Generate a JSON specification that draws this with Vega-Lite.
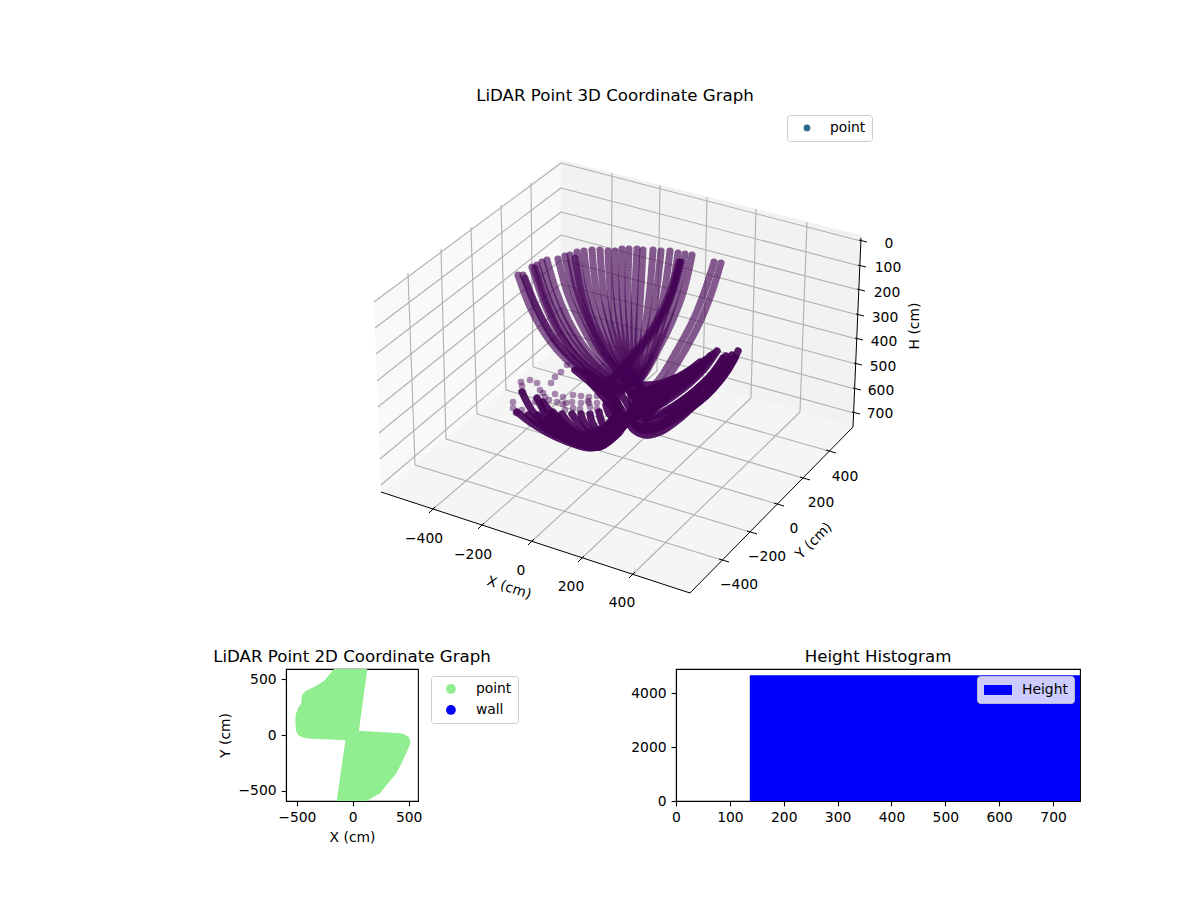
{
"$schema":"https://vega.github.io/schema/vega-lite/v6.json",
"padding":0,
"background":"white",
"config":{"font":"DejaVu Sans","view":{"stroke":null},
"title":{"fontSize":16.67,"fontWeight":"normal","color":"#000","anchor":"middle"},
"axis":{"grid":false,"labelFontSize":13.89,"titleFontSize":13.89,"labelColor":"#000","titleColor":"#000","titleFontWeight":"normal","domainColor":"#000","domainWidth":1.1,"tickColor":"#000","tickWidth":1.1,"tickSize":4.9,"labelPadding":5,"labelFlush":false,"labelOverlap":false,"titlePadding":5},
"legend":{"labelFontSize":13.89,"labelColor":"#000","title":null,"orient":"none","strokeColor":"#cccccc","fillColor":"white","cornerRadius":3,"padding":6}},
"datasets":{
"strings":[
{"c":1,"sx":518,"sy":275},{"c":1,"sx":530,"sy":307},{"c":1,"sx":547,"sy":337},{"c":1,"sx":570,"sy":363},{"c":1,"sx":600,"sy":383},{"c":1,"sx":622,"sy":392},
{"c":2,"sx":523,"sy":275},{"c":2,"sx":536,"sy":307},{"c":2,"sx":553,"sy":337},{"c":2,"sx":576,"sy":362},{"c":2,"sx":604,"sy":382},{"c":2,"sx":624,"sy":391},
{"c":3,"sx":532,"sy":267},{"c":3,"sx":543,"sy":300},{"c":3,"sx":558,"sy":332},{"c":3,"sx":580,"sy":360},{"c":3,"sx":606,"sy":380},{"c":3,"sx":625,"sy":390},
{"c":4,"sx":537,"sy":265},{"c":4,"sx":548,"sy":298},{"c":4,"sx":563,"sy":330},{"c":4,"sx":584,"sy":358},{"c":4,"sx":608,"sy":378},{"c":4,"sx":626,"sy":389},
{"c":5,"sx":542,"sy":262},{"c":5,"sx":552,"sy":295},{"c":5,"sx":567,"sy":327},{"c":5,"sx":587,"sy":356},{"c":5,"sx":610,"sy":377},{"c":5,"sx":627,"sy":388},
{"c":6,"sx":547,"sy":260},{"c":6,"sx":557,"sy":293},{"c":6,"sx":571,"sy":325},{"c":6,"sx":590,"sy":354},{"c":6,"sx":612,"sy":375},{"c":6,"sx":628,"sy":387},
{"c":7,"sx":558,"sy":259},{"c":7,"sx":567,"sy":292},{"c":7,"sx":580,"sy":322},{"c":7,"sx":597,"sy":352},{"c":7,"sx":616,"sy":375},{"c":7,"sx":628,"sy":385},
{"c":8,"sx":565,"sy":256},{"c":8,"sx":573,"sy":290},{"c":8,"sx":585,"sy":320},{"c":8,"sx":600,"sy":350},{"c":8,"sx":618,"sy":373},{"c":8,"sx":629,"sy":385},
{"c":9,"sx":570,"sy":255},{"c":9,"sx":577,"sy":290},{"c":9,"sx":588,"sy":320},{"c":9,"sx":603,"sy":350},{"c":9,"sx":620,"sy":373},{"c":9,"sx":630,"sy":384},
{"c":10,"sx":577,"sy":252},{"c":10,"sx":583,"sy":288},{"c":10,"sx":593,"sy":320},{"c":10,"sx":607,"sy":350},{"c":10,"sx":622,"sy":372},{"c":10,"sx":630,"sy":384},
{"c":11,"sx":584,"sy":251},{"c":11,"sx":589,"sy":288},{"c":11,"sx":598,"sy":320},{"c":11,"sx":610,"sy":350},{"c":11,"sx":623,"sy":372},{"c":11,"sx":631,"sy":384},
{"c":12,"sx":592,"sy":250},{"c":12,"sx":596,"sy":288},{"c":12,"sx":604,"sy":320},{"c":12,"sx":614,"sy":350},{"c":12,"sx":625,"sy":372},{"c":12,"sx":632,"sy":384},
{"c":13,"sx":600,"sy":250},{"c":13,"sx":603,"sy":288},{"c":13,"sx":609,"sy":320},{"c":13,"sx":618,"sy":350},{"c":13,"sx":627,"sy":372},{"c":13,"sx":632,"sy":384},
{"c":14,"sx":608,"sy":251},{"c":14,"sx":610,"sy":288},{"c":14,"sx":614,"sy":320},{"c":14,"sx":621,"sy":350},{"c":14,"sx":629,"sy":372},{"c":14,"sx":633,"sy":384},
{"c":15,"sx":615,"sy":251},{"c":15,"sx":616,"sy":288},{"c":15,"sx":619,"sy":320},{"c":15,"sx":624,"sy":350},{"c":15,"sx":630,"sy":372},{"c":15,"sx":634,"sy":384},
{"c":16,"sx":622,"sy":249},{"c":16,"sx":622,"sy":288},{"c":16,"sx":624,"sy":320},{"c":16,"sx":627,"sy":350},{"c":16,"sx":632,"sy":372},{"c":16,"sx":634,"sy":384},
{"c":17,"sx":629,"sy":249},{"c":17,"sx":628,"sy":288},{"c":17,"sx":629,"sy":320},{"c":17,"sx":630,"sy":350},{"c":17,"sx":633,"sy":372},{"c":17,"sx":635,"sy":384},
{"c":18,"sx":637,"sy":249},{"c":18,"sx":635,"sy":288},{"c":18,"sx":634,"sy":320},{"c":18,"sx":634,"sy":350},{"c":18,"sx":635,"sy":372},{"c":18,"sx":635,"sy":384},
{"c":19,"sx":643,"sy":250},{"c":19,"sx":641,"sy":288},{"c":19,"sx":639,"sy":320},{"c":19,"sx":637,"sy":350},{"c":19,"sx":636,"sy":372},{"c":19,"sx":635,"sy":384},
{"c":20,"sx":653,"sy":250},{"c":20,"sx":650,"sy":288},{"c":20,"sx":646,"sy":320},{"c":20,"sx":641,"sy":350},{"c":20,"sx":638,"sy":372},{"c":20,"sx":636,"sy":384},
{"c":21,"sx":661,"sy":251},{"c":21,"sx":657,"sy":288},{"c":21,"sx":652,"sy":320},{"c":21,"sx":645,"sy":350},{"c":21,"sx":640,"sy":372},{"c":21,"sx":636,"sy":384},
{"c":22,"sx":670,"sy":251},{"c":22,"sx":665,"sy":288},{"c":22,"sx":658,"sy":320},{"c":22,"sx":650,"sy":350},{"c":22,"sx":642,"sy":372},{"c":22,"sx":636,"sy":384},
{"c":23,"sx":678,"sy":253},{"c":23,"sx":672,"sy":288},{"c":23,"sx":663,"sy":320},{"c":23,"sx":653,"sy":350},{"c":23,"sx":644,"sy":372},{"c":23,"sx":636,"sy":384},
{"c":24,"sx":685,"sy":254},{"c":24,"sx":678,"sy":288},{"c":24,"sx":668,"sy":320},{"c":24,"sx":656,"sy":350},{"c":24,"sx":645,"sy":372},{"c":24,"sx":636,"sy":384},
{"c":25,"sx":692,"sy":255},{"c":25,"sx":684,"sy":290},{"c":25,"sx":672,"sy":322},{"c":25,"sx":658,"sy":350},{"c":25,"sx":646,"sy":372},{"c":25,"sx":636,"sy":386},
{"c":26,"sx":680,"sy":262},{"c":26,"sx":670,"sy":297},{"c":26,"sx":653,"sy":330},{"c":26,"sx":630,"sy":360},{"c":26,"sx":613,"sy":377},
{"c":27,"sx":681,"sy":262},{"c":27,"sx":671,"sy":297},{"c":27,"sx":655,"sy":330},{"c":27,"sx":632,"sy":360},{"c":27,"sx":614,"sy":378},
{"c":28,"sx":679,"sy":262},{"c":28,"sx":668,"sy":297},{"c":28,"sx":651,"sy":330},{"c":28,"sx":628,"sy":360},{"c":28,"sx":612,"sy":378},
{"c":29,"sx":714,"sy":262},{"c":29,"sx":705,"sy":290},{"c":29,"sx":693,"sy":320},{"c":29,"sx":677,"sy":350},{"c":29,"sx":660,"sy":378},{"c":29,"sx":645,"sy":395},
{"c":30,"sx":721,"sy":263},{"c":30,"sx":712,"sy":292},{"c":30,"sx":700,"sy":322},{"c":30,"sx":684,"sy":352},{"c":30,"sx":666,"sy":380},{"c":30,"sx":650,"sy":398},
{"c":31,"sx":525,"sy":278},{"c":31,"sx":538,"sy":310},{"c":31,"sx":556,"sy":342},{"c":31,"sx":580,"sy":367},{"c":31,"sx":606,"sy":385},
{"c":32,"sx":535,"sy":268},{"c":32,"sx":546,"sy":302},{"c":32,"sx":562,"sy":336},{"c":32,"sx":584,"sy":364},{"c":32,"sx":610,"sy":384},
{"c":33,"sx":575,"sy":258},{"c":33,"sx":582,"sy":295},{"c":33,"sx":593,"sy":328},{"c":33,"sx":608,"sy":358},{"c":33,"sx":625,"sy":380},
{"c":40,"sx":738,"sy":351},{"c":40,"sx":728,"sy":370},{"c":40,"sx":712,"sy":390},{"c":40,"sx":695,"sy":405},{"c":40,"sx":678,"sy":420},{"c":40,"sx":660,"sy":432},{"c":40,"sx":645,"sy":435},{"c":40,"sx":632,"sy":428},{"c":40,"sx":628,"sy":415},
{"c":41,"sx":732,"sy":355},{"c":41,"sx":720,"sy":373},{"c":41,"sx":705,"sy":390},{"c":41,"sx":688,"sy":404},{"c":41,"sx":670,"sy":418},{"c":41,"sx":655,"sy":428},{"c":41,"sx":642,"sy":430},{"c":41,"sx":633,"sy":423},{"c":41,"sx":630,"sy":412},
{"c":42,"sx":723,"sy":358},{"c":42,"sx":712,"sy":374},{"c":42,"sx":696,"sy":390},{"c":42,"sx":680,"sy":403},{"c":42,"sx":664,"sy":414},{"c":42,"sx":650,"sy":422},{"c":42,"sx":640,"sy":423},{"c":42,"sx":634,"sy":416},
{"c":43,"sx":717,"sy":351},{"c":43,"sx":705,"sy":368},{"c":43,"sx":690,"sy":383},{"c":43,"sx":672,"sy":397},{"c":43,"sx":655,"sy":408},{"c":43,"sx":643,"sy":414},{"c":43,"sx":636,"sy":412},
{"c":44,"sx":710,"sy":356},{"c":44,"sx":695,"sy":372},{"c":44,"sx":678,"sy":386},{"c":44,"sx":660,"sy":398},{"c":44,"sx":645,"sy":405},{"c":44,"sx":635,"sy":405},
{"c":45,"sx":700,"sy":362},{"c":45,"sx":682,"sy":376},{"c":45,"sx":665,"sy":388},{"c":45,"sx":648,"sy":396},{"c":45,"sx":635,"sy":398},
{"c":46,"sx":690,"sy":370},{"c":46,"sx":672,"sy":380},{"c":46,"sx":655,"sy":388},{"c":46,"sx":640,"sy":392},{"c":46,"sx":630,"sy":392},
{"c":47,"sx":730,"sy":360},{"c":47,"sx":716,"sy":380},{"c":47,"sx":698,"sy":398},{"c":47,"sx":678,"sy":412},{"c":47,"sx":658,"sy":424},{"c":47,"sx":640,"sy":427},
{"c":48,"sx":726,"sy":356},{"c":48,"sx":714,"sy":372},{"c":48,"sx":700,"sy":386},{"c":48,"sx":684,"sy":399},{"c":48,"sx":667,"sy":410},{"c":48,"sx":650,"sy":417},{"c":48,"sx":636,"sy":415},
{"c":49,"sx":713,"sy":354},{"c":49,"sx":700,"sy":370},{"c":49,"sx":684,"sy":385},{"c":49,"sx":666,"sy":397},{"c":49,"sx":650,"sy":405},{"c":49,"sx":636,"sy":408},
{"c":70,"sx":705,"sy":360},{"c":70,"sx":690,"sy":375},{"c":70,"sx":672,"sy":388},{"c":70,"sx":655,"sy":398},{"c":70,"sx":640,"sy":402},
{"c":71,"sx":695,"sy":367},{"c":71,"sx":677,"sy":380},{"c":71,"sx":660,"sy":390},{"c":71,"sx":645,"sy":396},{"c":71,"sx":632,"sy":396},
{"c":72,"sx":685,"sy":374},{"c":72,"sx":668,"sy":384},{"c":72,"sx":650,"sy":390},{"c":72,"sx":635,"sy":390},
{"c":73,"sx":675,"sy":378},{"c":73,"sx":658,"sy":384},{"c":73,"sx":642,"sy":385},{"c":73,"sx":628,"sy":384},
{"c":74,"sx":735,"sy":358},{"c":74,"sx":722,"sy":378},{"c":74,"sx":706,"sy":396},{"c":74,"sx":688,"sy":410},{"c":74,"sx":668,"sy":423},{"c":74,"sx":650,"sy":430},{"c":74,"sx":636,"sy":425},
{"c":50,"sx":522,"sy":392},{"c":50,"sx":533,"sy":412},{"c":50,"sx":548,"sy":427},{"c":50,"sx":565,"sy":438},{"c":50,"sx":585,"sy":446},{"c":50,"sx":600,"sy":447},{"c":50,"sx":613,"sy":438},{"c":50,"sx":625,"sy":425},
{"c":51,"sx":517,"sy":412},{"c":51,"sx":530,"sy":422},{"c":51,"sx":548,"sy":433},{"c":51,"sx":568,"sy":442},{"c":51,"sx":590,"sy":448},{"c":51,"sx":605,"sy":444},{"c":51,"sx":620,"sy":432},
{"c":52,"sx":537,"sy":398},{"c":52,"sx":546,"sy":414},{"c":52,"sx":560,"sy":428},{"c":52,"sx":575,"sy":438},{"c":52,"sx":592,"sy":445},{"c":52,"sx":606,"sy":440},{"c":52,"sx":622,"sy":425},
{"c":53,"sx":543,"sy":402},{"c":53,"sx":553,"sy":415},{"c":53,"sx":566,"sy":428},{"c":53,"sx":580,"sy":437},{"c":53,"sx":595,"sy":443},{"c":53,"sx":608,"sy":436},{"c":53,"sx":622,"sy":420},
{"c":54,"sx":553,"sy":412},{"c":54,"sx":562,"sy":422},{"c":54,"sx":574,"sy":432},{"c":54,"sx":587,"sy":438},{"c":54,"sx":600,"sy":439},{"c":54,"sx":612,"sy":430},{"c":54,"sx":624,"sy":415},
{"c":55,"sx":562,"sy":414},{"c":55,"sx":568,"sy":422},{"c":55,"sx":578,"sy":432},{"c":55,"sx":590,"sy":436},{"c":55,"sx":603,"sy":434},{"c":55,"sx":615,"sy":424},
{"c":56,"sx":572,"sy":414},{"c":56,"sx":576,"sy":420},{"c":56,"sx":584,"sy":430},{"c":56,"sx":594,"sy":434},{"c":56,"sx":606,"sy":429},{"c":56,"sx":618,"sy":418},
{"c":57,"sx":581,"sy":414},{"c":57,"sx":583,"sy":420},{"c":57,"sx":590,"sy":430},{"c":57,"sx":598,"sy":431},{"c":57,"sx":609,"sy":424},{"c":57,"sx":620,"sy":412},
{"c":58,"sx":590,"sy":414},{"c":58,"sx":592,"sy":422},{"c":58,"sx":597,"sy":429},{"c":58,"sx":604,"sy":428},{"c":58,"sx":613,"sy":418},
{"c":59,"sx":599,"sy":412},{"c":59,"sx":601,"sy":420},{"c":59,"sx":605,"sy":427},{"c":59,"sx":612,"sy":422},{"c":59,"sx":620,"sy":408},
{"c":75,"sx":528,"sy":415},{"c":75,"sx":542,"sy":426},{"c":75,"sx":560,"sy":436},{"c":75,"sx":580,"sy":444},{"c":75,"sx":598,"sy":444},{"c":75,"sx":615,"sy":432},
{"c":76,"sx":538,"sy":415},{"c":76,"sx":550,"sy":426},{"c":76,"sx":566,"sy":434},{"c":76,"sx":584,"sy":441},{"c":76,"sx":600,"sy":441},{"c":76,"sx":616,"sy":428},
{"c":77,"sx":548,"sy":418},{"c":77,"sx":558,"sy":427},{"c":77,"sx":571,"sy":434},{"c":77,"sx":586,"sy":439},{"c":77,"sx":602,"sy":437},{"c":77,"sx":618,"sy":424},
{"c":60,"sx":600,"sy":383},{"c":60,"sx":615,"sy":400},{"c":60,"sx":628,"sy":420},
{"c":61,"sx":610,"sy":380},{"c":61,"sx":625,"sy":400},{"c":61,"sx":635,"sy":420},
{"c":62,"sx":625,"sy":380},{"c":62,"sx":632,"sy":400},{"c":62,"sx":630,"sy":420},
{"c":63,"sx":640,"sy":385},{"c":63,"sx":635,"sy":405},{"c":63,"sx":625,"sy":425},
{"c":64,"sx":655,"sy":390},{"c":64,"sx":640,"sy":408},{"c":64,"sx":625,"sy":425},
{"c":65,"sx":590,"sy":382},{"c":65,"sx":610,"sy":405},{"c":65,"sx":625,"sy":425},
{"c":66,"sx":612,"sy":382},{"c":66,"sx":618,"sy":405},{"c":66,"sx":622,"sy":428},
{"c":67,"sx":585,"sy":372},{"c":67,"sx":605,"sy":388},{"c":67,"sx":618,"sy":405},
{"c":68,"sx":575,"sy":370},{"c":68,"sx":595,"sy":386},{"c":68,"sx":612,"sy":398},
{"c":69,"sx":606,"sy":405},{"c":69,"sx":610,"sy":415},{"c":69,"sx":620,"sy":420},
{"c":78,"sx":612,"sy":395},{"c":78,"sx":615,"sy":410},{"c":78,"sx":622,"sy":418},
{"c":79,"sx":650,"sy":395},{"c":79,"sx":640,"sy":415},
{"c":80,"sx":660,"sy":400},{"c":80,"sx":645,"sy":420},
{"c":81,"sx":670,"sy":395},{"c":81,"sx":650,"sy":412}
],
"dots":[
{"sx":521,"sy":382},{"sx":522,"sy":386},{"sx":523,"sy":392},{"sx":530,"sy":380},{"sx":537,"sy":383},{"sx":540,"sy":390},{"sx":543,"sy":393},{"sx":545,"sy":397},{"sx":555,"sy":394},{"sx":563,"sy":397},{"sx":573,"sy":395},{"sx":581,"sy":396},{"sx":589,"sy":397},{"sx":597,"sy":396},{"sx":606,"sy":401},{"sx":513,"sy":402},{"sx":513,"sy":408},{"sx":516,"sy":413},{"sx":522,"sy":410},{"sx":535,"sy":402},{"sx":542,"sy":408},{"sx":543,"sy":413},{"sx":552,"sy":417},{"sx":557,"sy":402},{"sx":565,"sy":410},{"sx":572,"sy":402},{"sx":580,"sy":409},{"sx":588,"sy":401},{"sx":597,"sy":403},{"sx":551,"sy":383},{"sx":555,"sy":377},{"sx":561,"sy":372},{"sx":567,"sy":365},{"sx":549,"sy":400},{"sx":566,"sy":403},{"sx":590,"sy":407},{"sx":563,"sy":404},{"sx":573,"sy":408},{"sx":581,"sy":403},{"sx":597,"sy":409},{"sx":589,"sy":403}
]},
"vconcat":[
{"width":1200,"height":640,
"title":{"text":"LiDAR Point 3D Coordinate Graph","offset":-105,"dx":15},
"encoding":{"x":{"field":"sx","type":"quantitative","scale":{"domain":[0,1200],"nice":false},"axis":null},"y":{"field":"sy","type":"quantitative","scale":{"domain":[640,0],"nice":false},"axis":null}},
"layer":[
{"data":{"values":[{"sx":374,"sy":302,"sy2":302},{"sx":381,"sy":297,"sy2":492},{"sx":561,"sy":160,"sy2":343}]},"mark":{"type":"area","color":"#f9f9f9"},"encoding":{"y2":{"field":"sy2"}}},
{"data":{"values":[{"sx":561,"sy":160,"sy2":343},{"sx":853,"sy":233,"sy2":427},{"sx":862,"sy":235,"sy2":238}]},"mark":{"type":"area","color":"#f2f2f2"},"encoding":{"y2":{"field":"sy2"}}},
{"data":{"values":[{"sx":381,"sy":492,"sy2":492},{"sx":561,"sy":343,"sy2":551},{"sx":690,"sy":380,"sy2":593},{"sx":853,"sy":427,"sy2":427}]},"mark":{"type":"area","color":"#f5f5f5"},"encoding":{"y2":{"field":"sy2"}}},
{"data":{"values":[
{"sx":432,"sy":510,"sx2":611,"sy2":357},{"sx":481,"sy":526,"sx2":657,"sy2":371},{"sx":531,"sy":542,"sx2":703,"sy2":384},{"sx":581,"sy":559,"sx2":751,"sy2":398},{"sx":632,"sy":575,"sx2":800,"sy2":412},
{"sx":722,"sy":560,"sx2":415,"sy2":465},{"sx":750,"sy":532,"sx2":446,"sy2":439},{"sx":777,"sy":504,"sx2":477,"sy2":414},{"sx":803,"sy":478,"sx2":506,"sy2":390},{"sx":829,"sy":451,"sx2":533,"sy2":367},
{"sx":611,"sy":357,"sx2":612,"sy2":173},{"sx":657,"sy":371,"sx2":660,"sy2":185},{"sx":703,"sy":384,"sx2":707,"sy2":197},{"sx":751,"sy":398,"sx2":756,"sy2":209},{"sx":800,"sy":412,"sx2":807,"sy2":222},
{"sx":533,"sy":367,"sx2":531,"sy2":183},{"sx":506,"sy":391,"sx2":501,"sy2":205},{"sx":477,"sy":414,"sx2":471,"sy2":227},{"sx":446,"sy":439,"sx2":441,"sy2":249},{"sx":415,"sy":465,"sx2":408,"sy2":273},
{"sx":561,"sy":163,"sx2":861,"sy2":241},{"sx":561,"sy":188,"sx2":860,"sy2":266},{"sx":561,"sy":212,"sx2":859,"sy2":290},{"sx":561,"sy":235,"sx2":858,"sy2":315},{"sx":561,"sy":260,"sx2":857,"sy2":339},{"sx":561,"sy":284,"sx2":856,"sy2":364},{"sx":561,"sy":308,"sx2":855,"sy2":389},{"sx":561,"sy":332,"sx2":854,"sy2":413},
{"sx":561,"sy":163,"sx2":374,"sy2":302},{"sx":561,"sy":188,"sx2":375,"sy2":328},{"sx":561,"sy":212,"sx2":376,"sy2":354},{"sx":561,"sy":235,"sx2":377,"sy2":381},{"sx":561,"sy":260,"sx2":378,"sy2":407},{"sx":561,"sy":284,"sx2":379,"sy2":433},{"sx":561,"sy":308,"sx2":380,"sy2":459},{"sx":561,"sy":332,"sx2":381,"sy2":485}
]},"mark":{"type":"rule","color":"#b0b0b0","strokeWidth":1.1},"encoding":{"x2":{"field":"sx2"},"y2":{"field":"sy2"}}},
{"data":{"values":[
{"sx":381,"sy":492,"sx2":690,"sy2":593},{"sx":690,"sy":593,"sx2":853,"sy2":427},{"sx":853,"sy":427,"sx2":861,"sy2":238},
{"sx":435,"sy":507,"sx2":429,"sy2":513},{"sx":484,"sy":523,"sx2":478,"sy2":529},{"sx":534,"sy":539,"sx2":528,"sy2":545},{"sx":584,"sy":556,"sx2":578,"sy2":562},{"sx":635,"sy":572,"sx2":629,"sy2":578},
{"sx":719,"sy":559,"sx2":729,"sy2":562},{"sx":747,"sy":531,"sx2":757,"sy2":534},{"sx":774,"sy":503,"sx2":784,"sy2":506},{"sx":800,"sy":477,"sx2":810,"sy2":480},{"sx":826,"sy":450,"sx2":836,"sy2":453},
{"sx":859,"sy":240,"sx2":867,"sy2":242},{"sx":858,"sy":265,"sx2":866,"sy2":267},{"sx":857,"sy":289,"sx2":865,"sy2":291},{"sx":856,"sy":314,"sx2":864,"sy2":316},{"sx":855,"sy":338,"sx2":863,"sy2":340},{"sx":854,"sy":363,"sx2":862,"sy2":365},{"sx":853,"sy":388,"sx2":861,"sy2":390},{"sx":852,"sy":412,"sx2":860,"sy2":414}
]},"mark":{"type":"rule","color":"#000","strokeWidth":1},"encoding":{"x2":{"field":"sx2"},"y2":{"field":"sy2"}}},
{"data":{"name":"strings"},"transform":[{"window":[{"op":"row_number","as":"i"}]}],"mark":{"type":"line","color":"#440154","opacity":0.64,"strokeWidth":7.2,"strokeCap":"round","strokeDash":[0.01,3],"interpolate":"catmull-rom"},"encoding":{"detail":{"field":"c"},"order":{"field":"i"}}},
{"data":{"name":"strings"},"transform":[{"window":[{"op":"row_number","as":"i"}]},{"filter":"datum.c >= 40"}],"mark":{"type":"line","color":"#440154","opacity":0.75,"strokeWidth":7.2,"strokeCap":"round","interpolate":"catmull-rom"},"encoding":{"detail":{"field":"c"},"order":{"field":"i"}}},
{"data":{"name":"dots"},"mark":{"type":"circle","color":"#440154","opacity":0.45,"size":44}},
{"data":{"values":[
{"sx":424,"sy":537,"t":"−400"},{"sx":473,"sy":553,"t":"−200"},{"sx":521,"sy":569,"t":"0"},{"sx":571,"sy":585,"t":"200"},{"sx":622,"sy":601,"t":"400"},
{"sx":739,"sy":583,"t":"−400"},{"sx":767,"sy":555,"t":"−200"},{"sx":794,"sy":527,"t":"0"},{"sx":821,"sy":501,"t":"200"},{"sx":845,"sy":475,"t":"400"},
{"sx":889,"sy":242,"t":"0"},{"sx":888,"sy":266.5,"t":"100"},{"sx":887,"sy":291,"t":"200"},{"sx":885,"sy":316,"t":"300"},{"sx":884,"sy":340,"t":"400"},{"sx":883,"sy":365,"t":"500"},{"sx":881,"sy":389,"t":"600"},{"sx":880,"sy":412,"t":"700"}
]},"mark":{"type":"text","fontSize":13.89,"color":"#000","baseline":"middle","dy":1.5},"encoding":{"text":{"field":"t"}}},
{"data":{"values":[{"sx":509,"sy":588,"t":"X (cm)"}]},"mark":{"type":"text","fontSize":13.89,"color":"#000","baseline":"middle","angle":18},"encoding":{"text":{"field":"t"}}},
{"data":{"values":[{"sx":814,"sy":541,"t":"Y (cm)"}]},"mark":{"type":"text","fontSize":13.89,"color":"#000","baseline":"middle","angle":-45},"encoding":{"text":{"field":"t"}}},
{"data":{"values":[{"sx":915,"sy":326,"t":"H (cm)"}]},"mark":{"type":"text","fontSize":13.89,"color":"#000","baseline":"middle","angle":-90},"encoding":{"text":{"field":"t"}}},
{"data":{"values":[]},"mark":{"type":"circle"},"encoding":{"color":{"field":"series","type":"nominal","scale":{"domain":["point"],"range":["#2c6c91"]},"legend":{"legendX":787,"legendY":115,"symbolType":"circle","symbolSize":45,"symbolOffset":7,"labelOffset":16,"symbolOpacity":1}}}}
]},
{"hconcat":[
{"width":28,"height":132,"data":{"values":[{"a":0}]},"mark":{"type":"rect","opacity":0},"encoding":{"x":{"field":"a","type":"quantitative","axis":null},"y":{"field":"a","type":"quantitative","axis":null}}},
{"width":132,"height":132,
"view":{"stroke":"#000","strokeWidth":1.1},
"title":{"text":"LiDAR Point 2D Coordinate Graph","offset":3},
"data":{"values":[
{"series":"point","lobe":1,"x":-514,"y":150,"y2":150},{"series":"point","lobe":1,"x":-508,"y":189,"y2":39},{"series":"point","lobe":1,"x":-490,"y":240,"y2":0},{"series":"point","lobe":1,"x":-460,"y":284,"y2":-15},{"series":"point","lobe":1,"x":-454,"y":359,"y2":-18},{"series":"point","lobe":1,"x":-418,"y":398,"y2":-30},{"series":"point","lobe":1,"x":-328,"y":440,"y2":-36},{"series":"point","lobe":1,"x":-253,"y":488,"y2":-39},{"series":"point","lobe":1,"x":-163,"y":599,"y2":-42},{"series":"point","lobe":1,"x":-65,"y":599,"y2":-48},{"series":"point","lobe":1,"x":55,"y":599,"y2":36},{"series":"point","lobe":1,"x":130,"y":599,"y2":590},
{"series":"point","lobe":2,"x":-143,"y":-590,"y2":-614},{"series":"point","lobe":2,"x":-65,"y":-45,"y2":-614},{"series":"point","lobe":2,"x":55,"y":39,"y2":-614},{"series":"point","lobe":2,"x":121,"y":33,"y2":-593},{"series":"point","lobe":2,"x":241,"y":27,"y2":-524},{"series":"point","lobe":2,"x":390,"y":18,"y2":-344},{"series":"point","lobe":2,"x":421,"y":15,"y2":-284},{"series":"point","lobe":2,"x":456,"y":9,"y2":-210},{"series":"point","lobe":2,"x":504,"y":-21,"y2":-105},{"series":"point","lobe":2,"x":516,"y":-60,"y2":-75}
]},
"mark":{"type":"area","clip":true},
"encoding":{
"x":{"field":"x","type":"quantitative","title":"X (cm)","scale":{"domain":[-597,584],"nice":false,"zero":false},"axis":{"values":[-500,0,500],"titlePadding":6}},
"y":{"field":"y","type":"quantitative","title":"Y (cm)","scale":{"domain":[-592,592],"nice":false,"zero":false},"axis":{"values":[-500,0,500],"titlePadding":5}},
"y2":{"field":"y2"},
"detail":{"field":"lobe"},
"color":{"field":"series","type":"nominal","scale":{"domain":["point","wall"],"range":["#90ee90","#0000ff"]},"legend":{"legendX":145,"legendY":7,"symbolType":"circle","symbolSize":95,"symbolOffset":7,"labelOffset":18,"rowPadding":6,"symbolOpacity":1}}
}},
{"width":404,"height":132,
"view":{"stroke":"#000","strokeWidth":1.1},
"title":{"text":"Height Histogram","offset":3},
"data":{"values":[{"series":"Height","from":137,"to":750,"count":4660}]},
"mark":{"type":"rect"},
"encoding":{
"x":{"field":"from","type":"quantitative","title":null,"scale":{"domain":[0,750],"nice":false},"axis":{"values":[0,100,200,300,400,500,600,700]}},
"x2":{"field":"to"},
"y":{"field":"count","type":"quantitative","title":null,"scale":{"domain":[0,4890],"nice":false},"axis":{"values":[0,2000,4000],"format":"d"}},
"y2":{"datum":0},
"color":{"field":"series","type":"nominal","scale":{"domain":["Height"],"range":["#0000ff"]},"legend":{"legendX":301,"legendY":7,"symbolType":"M-2,-0.71H2V0.71H-2Z","symbolSize":196,"symbolOffset":7,"labelOffset":16,"fillColor":"rgba(255,255,255,0.8)","strokeColor":"rgba(204,204,204,0.8)"}}
}}
],"spacing":258,"bounds":"flush","resolve":{"scale":{"color":"independent"},"legend":{"color":"independent"}}}
],"spacing":29,"bounds":"flush","resolve":{"scale":{"color":"independent"},"legend":{"color":"independent"}}
}
